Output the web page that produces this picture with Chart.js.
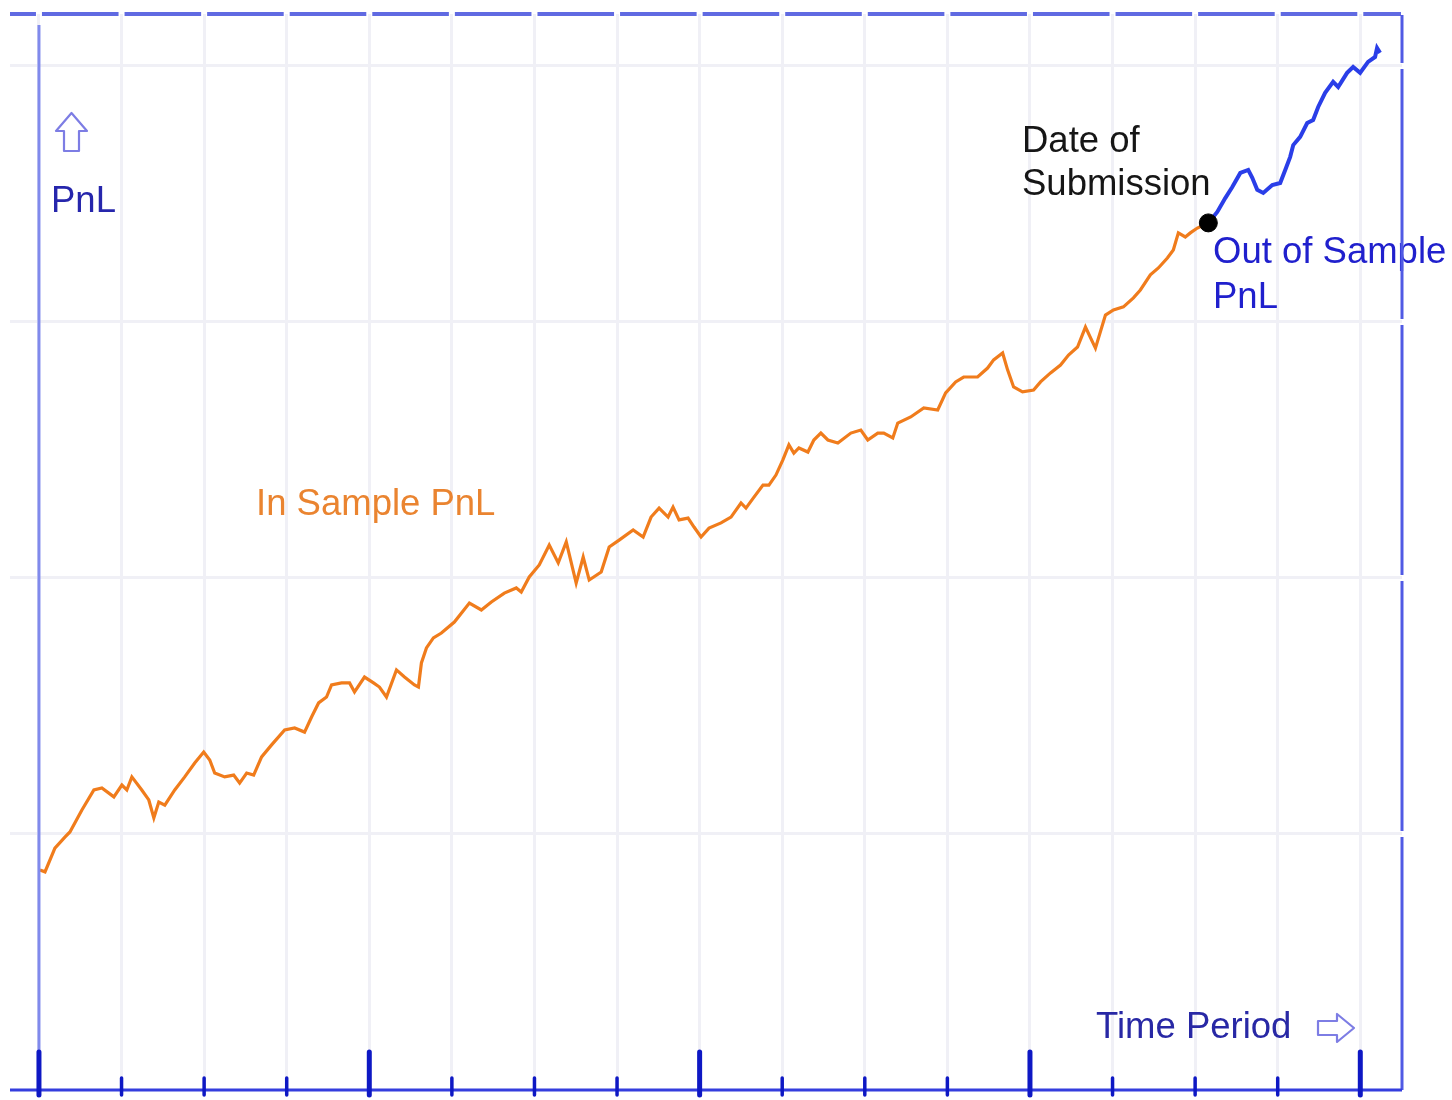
<!DOCTYPE html>
<html>
<head>
<meta charset="utf-8">
<script src="https://cdn.jsdelivr.net/npm/chart.js@4.4.0/dist/chart.umd.min.js"></script>
<style>
  html, body { margin: 0; padding: 0; background: #ffffff; }
  canvas { display: block; }
</style>
</head>
<body>
<canvas id="c" width="1452" height="1100"></canvas>
<script>
// ---- Data (time in periods, PnL in grid units) ----
const inSampleT = [0.012,0.073,0.193,0.314,0.375,0.520,0.665,0.762,0.907,1.004,1.064,1.125,1.245,1.330,1.391,1.451,1.524,1.644,1.765,1.886,1.995,2.068,2.128,2.249,2.358,2.430,2.515,2.600,2.696,2.817,2.975,3.096,3.216,3.301,3.386,3.482,3.543,3.664,3.761,3.821,3.942,4.051,4.123,4.208,4.329,4.426,4.547,4.595,4.631,4.692,4.776,4.873,5.030,5.212,5.357,5.478,5.635,5.780,5.840,5.937,6.058,6.179,6.288,6.385,6.505,6.590,6.663,6.808,6.905,7.025,7.195,7.316,7.412,7.509,7.618,7.678,7.751,7.860,7.932,8.017,8.114,8.259,8.380,8.501,8.561,8.658,8.767,8.839,8.924,9.008,9.081,9.141,9.202,9.311,9.383,9.468,9.553,9.674,9.831,9.952,10.036,10.157,10.230,10.339,10.399,10.556,10.714,10.883,10.979,11.100,11.197,11.366,11.487,11.560,11.669,11.729,11.802,11.910,12.044,12.128,12.249,12.370,12.467,12.576,12.672,12.793,12.914,13.011,13.132,13.253,13.337,13.458,13.555,13.664,13.736,13.797,13.881,13.942,14.027,14.160];
const inSamplePnL = [0.859,0.852,0.945,0.988,1.008,1.094,1.172,1.180,1.145,1.191,1.172,1.223,1.172,1.133,1.063,1.125,1.113,1.172,1.223,1.277,1.320,1.289,1.238,1.223,1.230,1.199,1.238,1.230,1.301,1.348,1.406,1.414,1.398,1.457,1.512,1.535,1.582,1.590,1.590,1.555,1.613,1.590,1.574,1.535,1.641,1.613,1.582,1.574,1.668,1.727,1.766,1.785,1.828,1.902,1.875,1.906,1.941,1.961,1.945,2.004,2.051,2.129,2.059,2.141,1.980,2.082,1.992,2.023,2.121,2.148,2.188,2.160,2.238,2.273,2.238,2.277,2.227,2.234,2.199,2.160,2.195,2.215,2.238,2.293,2.273,2.316,2.363,2.363,2.402,2.461,2.520,2.488,2.508,2.492,2.539,2.566,2.539,2.527,2.566,2.578,2.539,2.566,2.566,2.547,2.605,2.629,2.664,2.656,2.723,2.766,2.785,2.785,2.820,2.852,2.879,2.813,2.746,2.727,2.734,2.766,2.801,2.832,2.871,2.902,2.980,2.898,3.027,3.047,3.059,3.094,3.125,3.184,3.211,3.250,3.281,3.348,3.332,3.348,3.367,3.387];
const outSampleT = [14.160,14.268,14.365,14.450,14.547,14.643,14.692,14.752,14.825,14.934,15.030,15.091,15.151,15.188,15.272,15.357,15.429,15.490,15.574,15.671,15.732,15.840,15.913,15.998,16.094,16.179,16.203,16.239];
const outSamplePnL = [3.387,3.430,3.484,3.527,3.582,3.594,3.563,3.516,3.504,3.535,3.543,3.594,3.645,3.691,3.723,3.777,3.789,3.840,3.895,3.938,3.918,3.973,3.996,3.973,4.016,4.035,4.070,4.051];
const submissionT = [14.160];
const submissionPnL = [3.387];
const xTicks = [0,1,2,3,4,5,6,7,8,9,10,11,12,13,14,15,16];
const xMajorTicks = [0,4,8,12,16];
const yTicks = [1,2,3,4];

const toPts = (xs, ys) => xs.map((v, i) => ({ x: v, y: ys[i] }));

const FONT = "36.5px 'Liberation Sans', Arial, Helvetica, sans-serif";

const decor = {
  id: 'decor',
  afterDatasetsDraw(chart) {
    const { ctx } = chart;
    ctx.save();
    ctx.font = FONT;
    ctx.textBaseline = 'alphabetic';
    ctx.textAlign = 'left';
    // In Sample label
    ctx.fillStyle = 'rgb(234,132,48)';
    ctx.fillText('In Sample PnL', 256, 515);
    // Y axis label
    ctx.fillStyle = 'rgb(38,38,172)';
    ctx.fillText('PnL', 51, 212);
    // Date of submission
    ctx.fillStyle = 'rgb(22,22,22)';
    ctx.fillText('Date of', 1022, 152);
    ctx.fillText('Submission', 1022, 195);
    // Out of sample
    ctx.fillStyle = 'rgb(32,32,205)';
    ctx.fillText('Out of Sample', 1213, 263);
    ctx.fillText('PnL', 1213, 308);
    // Time period
    ctx.fillStyle = 'rgb(40,40,165)';
    ctx.fillText('Time Period', 1096, 1038);

    // Up arrow (outline)
    ctx.strokeStyle = 'rgb(125,125,228)';
    ctx.lineWidth = 2.2;
    ctx.lineJoin = 'round';
    ctx.beginPath();
    ctx.moveTo(71.5, 113);
    ctx.lineTo(87, 131);
    ctx.lineTo(79, 131);
    ctx.lineTo(79, 151);
    ctx.lineTo(64, 151);
    ctx.lineTo(64, 131);
    ctx.lineTo(56, 131);
    ctx.closePath();
    ctx.stroke();
    // Right arrow (outline)
    ctx.beginPath();
    ctx.moveTo(1354, 1028);
    ctx.lineTo(1337, 1014);
    ctx.lineTo(1337, 1021);
    ctx.lineTo(1318, 1021);
    ctx.lineTo(1318, 1035);
    ctx.lineTo(1337, 1035);
    ctx.lineTo(1337, 1042);
    ctx.closePath();
    ctx.stroke();
    ctx.restore();
  },
  afterDraw(chart) {
    const { ctx, chartArea: ca, scales: { x, y } } = chart;
    const x0 = x.getPixelForValue(0);
    const y0 = y.getPixelForValue(0);
    const gap = 3;
    ctx.save();
    ctx.lineCap = 'butt';

    // Top border, interrupted by vertical grid lines
    ctx.strokeStyle = 'rgb(96,106,226)';
    ctx.lineWidth = 4;
    const xs = [ca.left - gap].concat(xTicks.map(v => x.getPixelForValue(v)), [ca.right + 2]);
    for (let i = 0; i < xs.length - 1; i++) {
      ctx.beginPath();
      ctx.moveTo(xs[i] + gap, ca.top);
      ctx.lineTo(xs[i + 1] - gap, ca.top);
      ctx.stroke();
    }

    // Right border, interrupted by horizontal grid lines
    ctx.strokeStyle = 'rgb(80,90,228)';
    ctx.lineWidth = 3;
    const ys = [ca.top - 2].concat(yTicks.slice().reverse().map(v => y.getPixelForValue(v)), [y0 + gap]);
    for (let i = 0; i < ys.length - 1; i++) {
      ctx.beginPath();
      ctx.moveTo(ca.right, ys[i] + gap);
      ctx.lineTo(ca.right, ys[i + 1] - gap);
      ctx.stroke();
    }

    // Left (PnL) axis
    ctx.strokeStyle = 'rgb(128,138,236)';
    ctx.lineWidth = 3;
    ctx.beginPath();
    ctx.moveTo(x0, ca.top + 11);
    ctx.lineTo(x0, y0);
    ctx.stroke();

    // Bottom (time) axis
    ctx.strokeStyle = 'rgb(52,62,222)';
    ctx.lineWidth = 3;
    ctx.beginPath();
    ctx.moveTo(ca.left, y0);
    ctx.lineTo(ca.right, y0);
    ctx.stroke();

    // Ticks
    ctx.strokeStyle = 'rgb(14,24,196)';
    ctx.lineCap = 'round';
    xTicks.forEach(v => {
      const px = x.getPixelForValue(v);
      const major = xMajorTicks.includes(v);
      ctx.lineWidth = major ? 5 : 3.5;
      ctx.beginPath();
      ctx.moveTo(px, major ? y0 - 38 : y0 - 12);
      ctx.lineTo(px, y0 + 5);
      ctx.stroke();
    });
    ctx.restore();
  }
};

const gridColor = 'rgb(240,240,246)';

new Chart(document.getElementById('c'), {
  type: 'line',
  data: {
    datasets: [
      {
        label: 'Out of Sample PnL',
        data: toPts(outSampleT, outSamplePnL),
        borderColor: 'rgb(42,62,232)',
        borderWidth: 4,
        pointRadius: 0,
        tension: 0,
        order: 2
      },
      {
        label: 'In Sample PnL',
        data: toPts(inSampleT, inSamplePnL),
        borderColor: 'rgb(240,124,28)',
        borderWidth: 3.2,
        pointRadius: 0,
        tension: 0,
        order: 3
      },
      {
        label: 'Date of Submission',
        type: 'scatter',
        data: toPts(submissionT, submissionPnL),
        pointRadius: 9,
        pointBackgroundColor: '#000000',
        pointBorderColor: '#000000',
        order: 1
      }
    ]
  },
  options: {
    responsive: false,
    animation: false,
    devicePixelRatio: 1,
    layout: { padding: { left: 8, right: 50, top: 14, bottom: 10 } },
    plugins: { legend: { display: false }, tooltip: { enabled: false } },
    scales: {
      x: {
        type: 'linear',
        min: -0.3507,
        max: 16.505,
        afterBuildTicks: s => { s.ticks = xTicks.map(v => ({ value: v })); },
        afterFit: s => { s.height = 0; },
        ticks: { display: false },
        border: { display: false },
        grid: { color: gridColor, lineWidth: 3, drawTicks: false }
      },
      y: {
        type: 'linear',
        min: 0,
        max: 4.203,
        afterBuildTicks: s => { s.ticks = yTicks.map(v => ({ value: v })); },
        afterFit: s => { s.width = 0; },
        ticks: { display: false },
        border: { display: false },
        grid: { color: gridColor, lineWidth: 3, drawTicks: false }
      }
    }
  },
  plugins: [decor]
});
</script>
</body>
</html>
